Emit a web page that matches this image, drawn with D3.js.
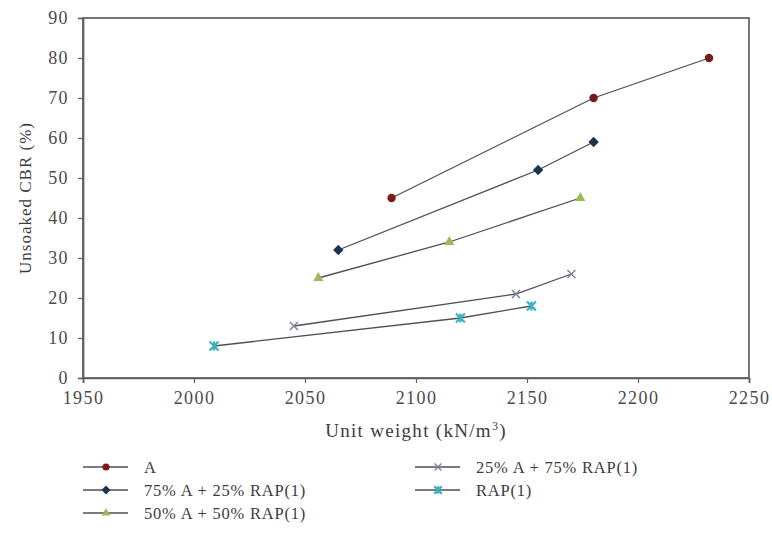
<!DOCTYPE html>
<html>
<head>
<meta charset="utf-8">
<script src="https://cdn.jsdelivr.net/npm/d3@7"></script>
<style>
  html, body { margin: 0; padding: 0; background: #fff; }
  svg { display: block; font-family: "Liberation Serif", "DejaVu Serif", serif; }
</style>
</head>
<body>
<svg id="chart" width="772" height="533"></svg>
<script>
// Unsoaked CBR against unit weight for five blends
const seriesNames = ["A", "75% A + 25% RAP(1)", "50% A + 50% RAP(1)", "25% A + 75% RAP(1)", "RAP(1)"];
const seriesColors = ["#7b1a1a", "#1c3350", "#9cbb58", "#7d7f9c", "#3bb3bf"];
const seriesSymbols = ["circle", "diamond", "triangle", "cross", "star"];

const weightA = [2089, 2180, 2232];
const cbrA = [45, 70, 80];
const weight75 = [2065, 2155, 2180];
const cbr75 = [32, 52, 59];
const weight50 = [2056, 2115, 2174];
const cbr50 = [25, 34, 45];
const weight25 = [2045, 2145, 2170];
const cbr25 = [13, 21, 26];
const weightRAP = [2009, 2120, 2152];
const cbrRAP = [8, 15, 18];

const xTicks = [1950, 2000, 2050, 2100, 2150, 2200, 2250];
const yTicks = [0, 10, 20, 30, 40, 50, 60, 70, 80, 90];

const weights = [weightA, weight75, weight50, weight25, weightRAP];
const cbrs = [cbrA, cbr75, cbr50, cbr25, cbrRAP];
const series = seriesNames.map((name, i) => ({
  name, color: seriesColors[i], symbol: seriesSymbols[i],
  points: weights[i].map((w, j) => ({ x: w, y: cbrs[i][j] }))
}));

const svg = d3.select("#chart");
const m = { left: 83, right: 23, top: 18, bottom: 155 };
const W = 772, H = 533;
const x = d3.scaleLinear().domain([1950, 2250]).range([m.left, W - m.right]);
const y = d3.scaleLinear().domain([0, 90]).range([H - m.bottom, m.top]);

const axisColor = "#5e5e5e";
const textColor = "#3c3c3c";

// plot frame
svg.append("rect")
  .attr("x", x(1950)).attr("y", y(90))
  .attr("width", x(2250) - x(1950)).attr("height", y(0) - y(90))
  .attr("fill", "none").attr("stroke", axisColor).attr("stroke-width", 1.7);

// axes
const xAxis = svg.append("g").attr("transform", `translate(0,${y(0)})`)
  .call(d3.axisBottom(x).tickValues(xTicks).tickFormat(d3.format("d")).tickSize(5).tickPadding(8));
const yAxis = svg.append("g").attr("transform", `translate(${x(1950)},0)`)
  .call(d3.axisLeft(y).tickValues(yTicks).tickFormat(d3.format("d")).tickSize(5).tickPadding(9));
[xAxis, yAxis].forEach(g => {
  g.select(".domain").attr("stroke", axisColor).attr("stroke-width", 1.7);
  g.selectAll(".tick line").attr("stroke", axisColor).attr("stroke-width", 1.2);
  g.selectAll(".tick text").attr("fill", "#4a4a4a")
    .style("font-family", "'Liberation Serif', serif").style("font-size", "18px")
    .style("letter-spacing", "1.4px");
});

// axis titles
const xTitle = svg.append("text")
  .attr("x", (x(1950) + x(2250)) / 2).attr("y", 437)
  .attr("text-anchor", "middle").attr("fill", textColor)
  .style("font-size", "19px").style("letter-spacing", "1.3px");
xTitle.append("tspan").text("Unit weight (kN/m");
xTitle.append("tspan").attr("dy", -7).style("font-size", "12px").text("3");
xTitle.append("tspan").attr("dy", 7).text(")");

svg.append("text")
  .attr("transform", `translate(31,${(y(0) + y(90)) / 2}) rotate(-90)`)
  .attr("text-anchor", "middle").attr("fill", textColor)
  .style("font-size", "17px").style("letter-spacing", "1px")
  .text("Unsoaked CBR (%)");

// marker drawing
function drawMarker(g, sym, color, cx, cy, scale = 1) {
  const s = scale;
  if (sym === "circle") {
    g.append("circle").attr("cx", cx).attr("cy", cy).attr("r", 4.2 * s).attr("fill", color);
  } else if (sym === "diamond") {
    const r = 5.2 * s;
    g.append("path").attr("d", `M${cx},${cy - r}L${cx + r},${cy}L${cx},${cy + r}L${cx - r},${cy}Z`).attr("fill", color);
  } else if (sym === "triangle") {
    g.append("path").attr("d", d3.symbol(d3.symbolTriangle, 45 * s * s)()).attr("transform", `translate(${cx},${cy})`).attr("fill", color);
  } else if (sym === "cross") {
    const r = 4 * s;
    g.append("path").attr("d", `M${cx - r},${cy - r}L${cx + r},${cy + r}M${cx - r},${cy + r}L${cx + r},${cy - r}`)
      .attr("stroke", color).attr("stroke-width", 1.4).attr("fill", "none");
  } else if (sym === "star") {
    const r = 4.5 * s;
    g.append("path").attr("d", `M${cx - r},${cy - r}L${cx + r},${cy + r}M${cx - r},${cy + r}L${cx + r},${cy - r}M${cx},${cy - r}L${cx},${cy + r}`)
      .attr("stroke", color).attr("stroke-width", 2.2).attr("fill", "none");
  }
}

// series lines and markers
const line = d3.line().x(d => x(d.x)).y(d => y(d.y));
const plot = svg.append("g");
series.forEach(s => {
  plot.append("path").attr("d", line(s.points))
    .attr("fill", "none").attr("stroke", "#4f4f4f").attr("stroke-width", 1.3);
});
series.forEach(s => {
  const g = plot.append("g");
  s.points.forEach(p => drawMarker(g, s.symbol, s.color, x(p.x), y(p.y)));
});

// legend
const legendPos = [
  { x: 83, y: 467 }, { x: 83, y: 490 }, { x: 83, y: 513 },
  { x: 415, y: 467 }, { x: 415, y: 490 }
];
series.forEach((s, i) => {
  const p = legendPos[i];
  const g = svg.append("g");
  g.append("line").attr("x1", p.x).attr("x2", p.x + 45).attr("y1", p.y).attr("y2", p.y)
    .attr("stroke", "#4f4f4f").attr("stroke-width", 1.3);
  drawMarker(g, s.symbol, s.color, p.x + 23, p.y, 0.85);
  g.append("text").attr("x", p.x + 61).attr("y", p.y + 6)
    .attr("fill", textColor).style("font-size", "16.5px").style("letter-spacing", "0.8px").text(s.name);
});
</script>
</body>
</html>
